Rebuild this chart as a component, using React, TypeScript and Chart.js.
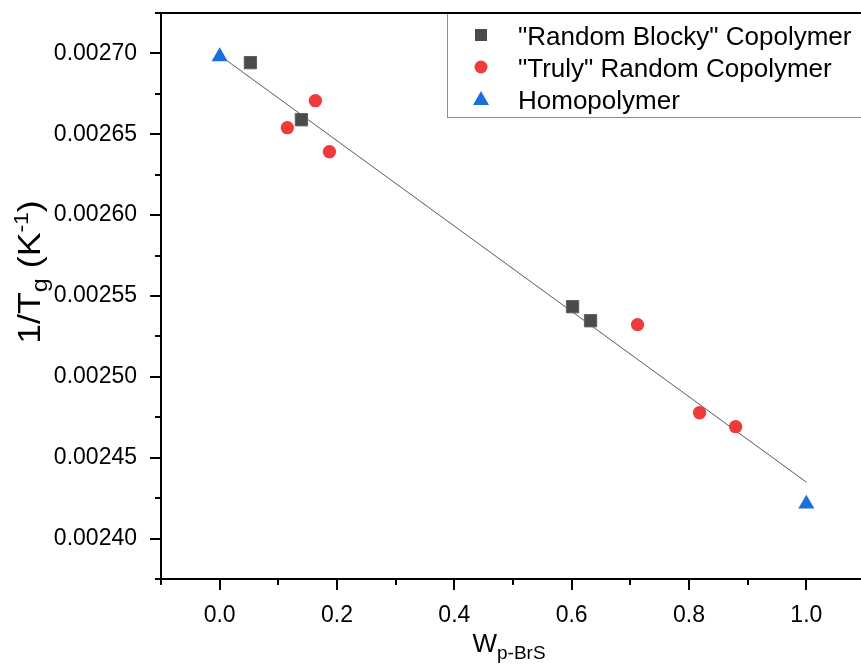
import React, { useEffect, useRef } from "react";
import { Chart, registerables } from "chart.js";

Chart.register(...registerables);

// ---- data ----
const blockyX = [0.0524, 0.1393, 0.6015, 0.6322];
const blockyY = [0.0026943, 0.002659, 0.0025434, 0.0025347];
const trulyX = [0.1154, 0.1632, 0.1871, 0.7123, 0.818, 0.8795];
const trulyY = [0.0026541, 0.0026708, 0.0026392, 0.0025323, 0.0024778, 0.0024692];
const homoX = [0.0, 1.0];
const homoY = [0.002698, 0.0024214];
const fitX = [0.0, 1.0];
const fitY = [0.0026988, 0.0024349];
const seriesLabels = ['"Random Blocky" Copolymer', '"Truly" Random Copolymer', "Homopolymer"];
const xTickValues = [0, 0.2, 0.4, 0.6, 0.8, 1.0];
const xMinorValues = [-0.1, 0.1, 0.3, 0.5, 0.7, 0.9];
const yTickValues = [0.0024, 0.00245, 0.0025, 0.00255, 0.0026, 0.00265, 0.0027];
const yMinorValues = [0.002375, 0.002425, 0.002475, 0.002525, 0.002575, 0.002625, 0.002675, 0.002725];

const FONT = "'Liberation Sans', Arial, Helvetica, sans-serif";
const C_BLOCKY = "#4b4b4b";
const C_TRULY = "#ef3b3b";
const C_HOMO = "#1a6fe0";

const zip = (xs: number[], ys: number[]) => xs.map((x, i) => ({ x, y: ys[i] }));

type Part = { t: string; size: number; dy: number };

function drawParts(ctx: CanvasRenderingContext2D, parts: Part[], cx: number, baseY: number) {
  let total = 0;
  for (const p of parts) {
    ctx.font = `${p.size}px ${FONT}`;
    total += ctx.measureText(p.t).width;
  }
  let x = cx - total / 2;
  ctx.textAlign = "left";
  ctx.textBaseline = "alphabetic";
  for (const p of parts) {
    ctx.font = `${p.size}px ${FONT}`;
    ctx.fillText(p.t, x, baseY + p.dy);
    x += ctx.measureText(p.t).width;
  }
}

const framePlugin = {
  id: "frame",
  afterDraw(chart: any) {
    const { ctx, chartArea } = chart;
    const xs = chart.scales.x;
    const ys = chart.scales.y;
    const L = chartArea.left;
    const B = chartArea.bottom;
    const T = chartArea.top;
    const R = chartArea.right;
    ctx.save();

    // legend
    ctx.strokeStyle = "#8c8c8c";
    ctx.lineWidth = 1;
    ctx.strokeRect(447.5, T, 520, 104.5);
    const mx = 481;
    const rows = [35, 67, 99];
    ctx.fillStyle = C_BLOCKY;
    ctx.fillRect(mx - 6, rows[0] - 6, 12, 12);
    ctx.fillStyle = C_TRULY;
    ctx.beginPath();
    ctx.arc(mx, rows[1], 6.5, 0, Math.PI * 2);
    ctx.fill();
    ctx.fillStyle = C_HOMO;
    ctx.beginPath();
    ctx.moveTo(mx, rows[2] - 8);
    ctx.lineTo(mx + 8, rows[2] + 6);
    ctx.lineTo(mx - 8, rows[2] + 6);
    ctx.closePath();
    ctx.fill();
    ctx.fillStyle = "#000";
    ctx.font = `26px ${FONT}`;
    ctx.textAlign = "left";
    ctx.textBaseline = "alphabetic";
    seriesLabels.forEach((s, i) => ctx.fillText(s, 518, rows[i] + 9.5));

    // axes frame
    ctx.strokeStyle = "#000";
    ctx.lineWidth = 2;
    ctx.beginPath();
    ctx.moveTo(L, T);
    ctx.lineTo(R, T);
    ctx.moveTo(L, T - 1);
    ctx.lineTo(L, B + 1);
    ctx.moveTo(L - 1, B);
    ctx.lineTo(R, B);
    for (const v of xTickValues) {
      const p = Math.round(xs.getPixelForValue(v));
      ctx.moveTo(p, B);
      ctx.lineTo(p, B + 11);
    }
    for (const v of xMinorValues) {
      const p = Math.round(xs.getPixelForValue(v));
      ctx.moveTo(p, B);
      ctx.lineTo(p, B + 6);
    }
    for (const v of yTickValues) {
      const p = Math.round(ys.getPixelForValue(v));
      ctx.moveTo(L, p);
      ctx.lineTo(L - 11, p);
    }
    for (const v of yMinorValues) {
      const p = Math.round(ys.getPixelForValue(v));
      ctx.moveTo(L, p);
      ctx.lineTo(L - 6, p);
    }
    ctx.stroke();

    // axis titles
    ctx.fillStyle = "#000";
    drawParts(
      ctx,
      [
        { t: "W", size: 26, dy: 0 },
        { t: "p-BrS", size: 19, dy: 7 },
      ],
      509,
      652
    );
    ctx.save();
    ctx.translate(29, 272);
    ctx.rotate(-Math.PI / 2);
    ctx.scale(1.15, 1);
    drawParts(
      ctx,
      [
        { t: "1/T", size: 31, dy: 0 },
        { t: "g", size: 22, dy: 7 },
        { t: " (K", size: 31, dy: 0 },
        { t: "-1", size: 20, dy: -12 },
        { t: ")", size: 31, dy: 0 },
      ],
      0,
      11
    );
    ctx.restore();

    ctx.restore();
  },
};

export default function App() {
  const ref = useRef<HTMLCanvasElement | null>(null);
  useEffect(() => {
    if (!ref.current) return;
    const chart = new Chart(ref.current, {
      type: "scatter",
      data: {
        datasets: [
          {
            label: seriesLabels[2],
            data: zip(homoX, homoY),
            pointStyle: "triangle",
            pointRadius: 9.3,
            backgroundColor: C_HOMO,
            borderColor: C_HOMO,
            borderWidth: 0,
          },
          {
            label: seriesLabels[0],
            data: zip(blockyX, blockyY),
            pointStyle: "rect",
            pointRadius: 8.7,
            backgroundColor: C_BLOCKY,
            borderColor: "#5e5e5e",
            borderWidth: 1,
          },
          {
            label: seriesLabels[1],
            data: zip(trulyX, trulyY),
            pointStyle: "circle",
            pointRadius: 6.7,
            backgroundColor: C_TRULY,
            borderColor: C_TRULY,
            borderWidth: 0,
          },
          {
            label: "fit",
            data: zip(fitX, fitY),
            showLine: true,
            pointRadius: 0,
            borderColor: "#5a5a5a",
            borderWidth: 1,
            backgroundColor: "#5a5a5a",
          } as any,
        ],
      },
      options: {
        animation: false,
        responsive: false,
        devicePixelRatio: 1,
        layout: { padding: { top: 13, left: 0, right: 0, bottom: 0 }, autoPadding: false },
        plugins: { legend: { display: false }, tooltip: { enabled: false }, title: { display: false } },
        events: [],
        scales: {
          x: {
            type: "linear",
            min: -0.1,
            max: 1.1,
            afterBuildTicks: (s: any) => {
              s.ticks = xTickValues.map((v) => ({ value: v }));
            },
            afterFit: (s: any) => {
              s.height = 93;
              s.paddingLeft = 0;
              s.paddingRight = 0;
              s.paddingTop = 0;
              s.paddingBottom = 0;
            },
            grid: { display: false },
            border: { display: false },
            ticks: {
              autoSkip: false,
              maxRotation: 0,
              padding: 15,
              color: "#000",
              font: { family: FONT, size: 23 },
              callback: (v: any) => Number(v).toFixed(1),
            },
          },
          y: {
            type: "linear",
            min: 0.002375,
            max: 0.002725,
            afterBuildTicks: (s: any) => {
              s.ticks = yTickValues.map((v) => ({ value: v }));
            },
            afterFit: (s: any) => {
              s.width = 161;
              s.paddingLeft = 0;
              s.paddingRight = 0;
              s.paddingTop = 0;
              s.paddingBottom = 0;
            },
            grid: { display: false },
            border: { display: false },
            ticks: {
              autoSkip: false,
              padding: 16,
              color: "#000",
              font: { family: FONT, size: 23 },
              callback: (v: any) => Number(v).toFixed(5),
            },
          },
        },
      } as any,
      plugins: [framePlugin],
    });
    return () => chart.destroy();
  }, []);
  return (
    <div
      style={{
        position: "absolute",
        left: 0,
        top: 0,
        width: 861,
        height: 672,
        overflow: "hidden",
        background: "#fff",
      }}
    >
      <canvas ref={ref} width={865} height={672} style={{ display: "block" }} />
    </div>
  );
}
